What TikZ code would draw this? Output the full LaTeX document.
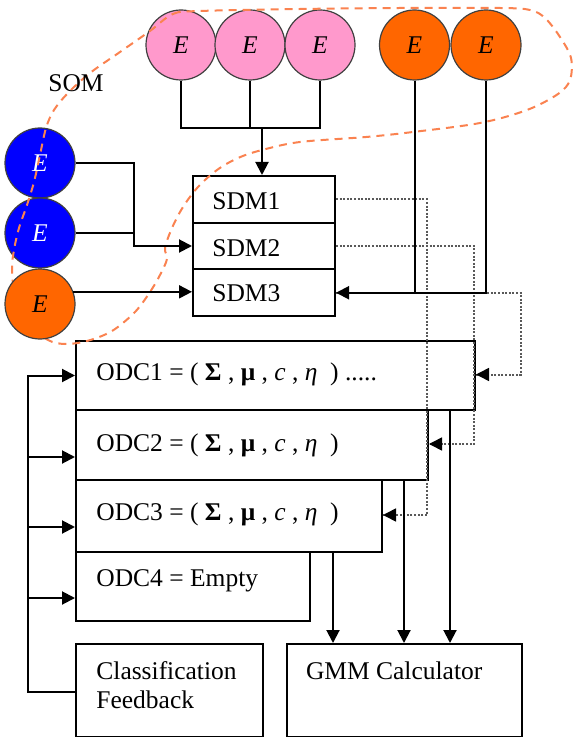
\documentclass[tikz,border=0pt]{standalone}
\usepackage{fontspec}
\setmainfont{Liberation Serif}
\usetikzlibrary{arrows.meta}
\definecolor{epink}{RGB}{255,153,204}
\definecolor{eorange}{RGB}{255,102,0}
\definecolor{eblue}{RGB}{0,0,255}
\definecolor{somline}{RGB}{250,130,80}
\newcommand{\odcparams}{( \textbf{Σ} , \textbf{μ} , \textit{c} , \textit{η}\ \ )}
\begin{document}
\begin{tikzpicture}[x=0.5pt,y=-0.5pt,
  every node/.style={font=\fontsize{12.75}{15.5}\selectfont},
  enode/.style={circle, draw=black!75, line width=0.6pt, minimum size=35pt, inner sep=0pt},
  box/.style={draw, line width=1pt, anchor=north west, inner sep=0pt},
  txt/.style={anchor=base west, inner sep=0pt},
  link/.style={line width=1pt},
  arr/.style={line width=1pt, -{Triangle[length=6.5pt,width=6.5pt]}},
  dotl/.style={line width=1pt, black!65, dash pattern=on 1pt off 0.8pt},
  tiparr/.style={line width=0.8pt, -{Triangle[length=6.5pt,width=6.5pt]}},
  somdash/.style={somline, line width=1pt, dash pattern=on 4pt off 3pt}
]
\useasboundingbox (0,0) rectangle (574,737);

% boxes
\node[box, minimum width=71pt, minimum height=23.35pt] (sdm1) at (192,175) {};
\node[box, minimum width=71pt, minimum height=23.35pt] (sdm2) at (192,221.7) {};
\node[box, minimum width=71pt, minimum height=23.35pt] (sdm3) at (192,268.4) {};
\node[box, minimum width=199.5pt, minimum height=34.5pt] (odc1) at (75,340) {};
\node[box, minimum width=176pt, minimum height=35pt] (odc2) at (75,409) {};
\node[box, minimum width=153pt, minimum height=36pt] (odc3) at (75,479) {};
\node[box, minimum width=117pt, minimum height=34.5pt] (odc4) at (75,551) {};
\node[box, minimum width=93.7pt, minimum height=46.5pt] (cf) at (75,643) {};
\node[box, minimum width=117.5pt, minimum height=46.5pt] (gmm) at (285.5,643) {};

% texts
\node[txt] (tsdm1) at (212,210) {SDM1};
\node[txt] (tsdm2) at (212,256.7) {SDM2};
\node[txt] (tsdm3) at (212,301.7) {SDM3};
\node[txt] (todc1) at (96,380) {ODC1 = \odcparams\ .....};
\node[txt] (todc2) at (96,451.7) {ODC2 = \odcparams};
\node[txt] (todc3) at (96,520) {ODC3 = \odcparams};
\node[txt] (todc4) at (96,586.7) {ODC4 = Empty};
\node[txt] (tcf1) at (96,679) {Classification};
\node[txt] (tcf2) at (96,708) {Feedback};
\node[txt] (tgmm) at (305.6,679) {GMM Calculator};

% circles
\node[enode, fill=epink] (p1) at (181,45) {\textit{E}};
\node[enode, fill=epink] (p2) at (250,45) {\textit{E}};
\node[enode, fill=epink] (p3) at (320,45) {\textit{E}};
\node[enode, fill=eorange] (o1) at (414.5,45) {\textit{E}};
\node[enode, fill=eorange] (o2) at (486,45) {\textit{E}};
\node[enode, fill=eblue, text=white] (b1) at (40,163) {\textit{E}};
\node[enode, fill=eblue, text=white] (b2) at (40,233) {\textit{E}};

% SOM boundary
\draw[somdash] plot[smooth cycle, tension=0.55] coordinates {
 (150,31) (173,14) (200,11) (300,9) (400,8) (500,8) (530,10) (545,18)
 (560,37) (571,58) (570,80) (558,94) (527,110) (480,123) (413,132)
 (366,137) (300,142) (262,150) (238,158) (217,170) (198,187) (183,207)
 (172,228) (165,248) (167,259) (160,275) (150,292) (135,312) (112,331)
 (87,341) (65,344) (48,340) (30,325) (16,300) (12,270) (14,250) (19,228)
 (27,205) (34,182) (40,155) (46,128) (54,110) (68,93) (90,73) (120,52)};
\node[txt] (tsom) at (48,91.7) {SOM};

\node[enode, fill=eorange] (ol) at (40,304) {\textit{E}};

% dotted links
\coordinate (k1) at (427,515);
\coordinate (k2) at (474,444);
\coordinate (k3) at (521,374.5);
\draw[dotl] (sdm1.east) -| (k1) -- (k1 -| odc3.east);
\draw[dotl] (sdm2.east) -| (k2) -- (k2 -| odc2.east);
\draw[dotl] (sdm3.east) -| (k3) -- (k3 -| odc1.east);
\draw[tiparr] ([xshift=5pt]k1 -| odc3.east) -- (k1 -| odc3.east);
\draw[tiparr] ([xshift=5pt]k2 -| odc2.east) -- (k2 -| odc2.east);
\draw[tiparr] ([xshift=5pt]k3 -| odc1.east) -- (k3 -| odc1.east);

% pink links
\coordinate (pj) at (262,128);
\draw[link] (p1.south) |- (pj);
\draw[link] (p3.south) |- (pj);
\draw[link] (p2.south) -- (p2.south |- pj);
\draw[arr] (pj) -- (pj |- sdm1.north);

% blue links
\coordinate (bj) at (134,246);
\draw[arr] (b1.east) -| (bj) -- (bj -| sdm2.west);
\draw[link] (b2.east) -- (b2.east -| bj);

% orange left
\draw[arr] (ol.20) -- (ol.20 -| sdm3.west);

% orange top
\draw[link] (o1.south) -- (o1.south |- sdm3.east);
\draw[arr] (o2.south) |- (sdm3.east);

% to GMM
\coordinate (g1) at (450,0);
\coordinate (g2) at (404,0);
\coordinate (g3) at (333,0);
\draw[arr] (odc1.south -| g1) -- (gmm.north -| g1);
\draw[arr] (odc2.south -| g2) -- (gmm.north -| g2);
\draw[arr] (odc3.south -| g3) -- (gmm.north -| g3);

% feedback
\coordinate (fb) at (28,692);
\coordinate (f2) at (28,457);
\coordinate (f3) at (28,527);
\coordinate (f4) at (28,598);
\draw[arr] (cf.west |- fb) -- (fb) |- (odc1.west);
\draw[arr] (f2) -- (f2 -| odc2.west);
\draw[arr] (f3) -- (f3 -| odc3.west);
\draw[arr] (f4) -- (f4 -| odc4.west);
\end{tikzpicture}
\end{document}
